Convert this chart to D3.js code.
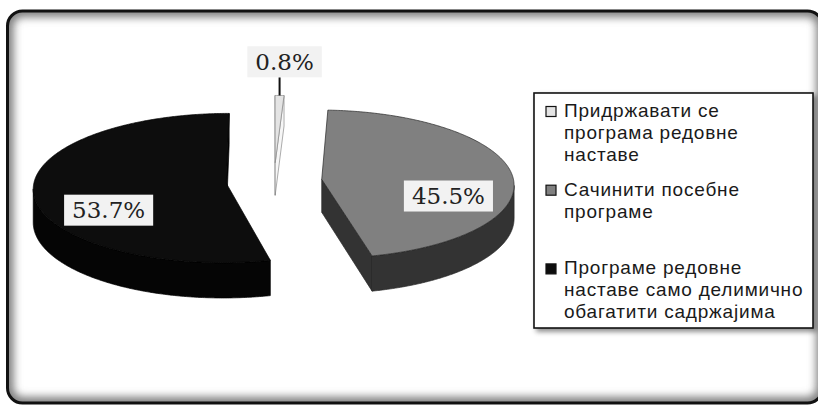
<!DOCTYPE html>
<html>
<head>
<meta charset="utf-8">
<script src="https://cdn.jsdelivr.net/npm/d3@7/dist/d3.min.js"></script>
<style>
  html, body { margin: 0; padding: 0; background: #ffffff; }
  svg { display: block; }
</style>
</head>
<body>
<svg id="chart" width="818" height="406"></svg>
<script>
// ---- data ----
const categories = [
  "Придржавати се програма редовне наставе",
  "Сачинити посебне програме",
  "Програме редовне наставе само делимично обагатити садржајима"
];
const legendLines = [
  ["Придржавати се", "програма редовне", "наставе"],
  ["Сачинити посебне", "програме"],
  ["Програме редовне", "наставе само делимично", "обагатити садржајима"]
];
const values = [0.8, 45.5, 53.7];
const valueLabels = ["0.8%", "45.5%", "53.7%"];

// ---- styles ----
const topColor  = d3.scaleOrdinal().domain(categories).range(["#e4e4e4", "#808080", "#0d0d0d"]);
const sideColor = d3.scaleOrdinal().domain(categories).range(["#f6f6f6", "#333333", "#050505"]);
const edgeColor = d3.scaleOrdinal().domain(categories).range(["#8a8a8a", "#262626", "#000000"]);

const W = 818, H = 406;
const svg = d3.select("#chart");
const defs = svg.append("defs");

// ---- outer frame with inner shadow ----
const frame = { x: 7.5, y: 11, w: 815, h: 392, r: 15 };
defs.append("clipPath").attr("id", "frameClip")
  .append("rect").attr("x", frame.x).attr("y", frame.y)
  .attr("width", frame.w).attr("height", frame.h).attr("rx", frame.r);
defs.append("filter").attr("id", "soft")
  .attr("x", "-5%").attr("y", "-5%").attr("width", "110%").attr("height", "110%")
  .append("feGaussianBlur").attr("stdDeviation", 4);
const shadow = defs.append("filter").attr("id", "legendShadow")
  .attr("x", "-10%").attr("y", "-10%").attr("width", "125%").attr("height", "125%");
shadow.append("feDropShadow").attr("dx", 3).attr("dy", 3).attr("stdDeviation", 2.5)
  .attr("flood-color", "#000").attr("flood-opacity", 0.45);

svg.append("rect").attr("x", frame.x).attr("y", frame.y)
  .attr("width", frame.w).attr("height", frame.h).attr("rx", frame.r)
  .attr("fill", "#ffffff");
svg.append("rect").attr("x", frame.x).attr("y", frame.y)
  .attr("width", frame.w).attr("height", frame.h).attr("rx", frame.r)
  .attr("fill", "none").attr("stroke", "#7a7a7a").attr("stroke-width", 12)
  .attr("filter", "url(#soft)").attr("clip-path", "url(#frameClip)");
svg.append("rect").attr("x", frame.x).attr("y", frame.y)
  .attr("width", frame.w).attr("height", frame.h).attr("rx", frame.r)
  .attr("fill", "none").attr("stroke", "#111").attr("stroke-width", 3);

// ---- 3D pie projection ----
const view = { cx: 274, cy: 181, rx: 192, ry: 74, depth: 33, persp: 0.065, explode: 0.25 };
const xs = d3.scaleLinear().domain([-1, 1]).range([-view.rx, view.rx]);
const zs = d3.scaleLinear().domain([-1, 1]).range([-view.ry, view.ry]);
// world x (right), z (toward viewer), h (0 = top face, 1 = bottom face)
function project(x, z, h) {
  const s = 1 / (1 - view.persp * z);
  return [view.cx + xs(x) * s, view.cy + (zs(z) + view.depth * h) * s];
}
function signedArea(pts) {
  let a = 0;
  for (let i = 0; i < pts.length; i++) {
    const p = pts[i], q = pts[(i + 1) % pts.length];
    a += p[0] * q[1] - q[0] * p[1];
  }
  return a / 2;
}
function sampleAngles(a0, a1) {
  const n = Math.max(2, Math.ceil((a1 - a0) / (Math.PI / 360)));
  return d3.range(n + 1).map(i => a0 + (a1 - a0) * i / n);
}
const line = d3.line();

const arcs = d3.pie().sort(null).value(d => d)(values);
arcs.forEach((a, i) => {
  a.cat = categories[i];
  a.label = valueLabels[i];
  a.mid = (a.startAngle + a.endAngle) / 2;
  a.ox = view.explode * Math.sin(a.mid);
  a.oz = -view.explode * Math.cos(a.mid);
});
const pt = (a, th, r, h) => project(a.ox + r * Math.sin(th), a.oz - r * Math.cos(th), h);

const pieG = svg.append("g").attr("class", "pie");
arcs.slice().sort((p, q) => p.oz - q.oz).forEach(a => {
  const g = pieG.append("g");
  const angles = sampleAngles(a.startAngle, a.endAngle);
  const faces = [];
  const C0 = pt(a, 0, 0, 0), C1 = pt(a, 0, 0, 1);
  const S0 = pt(a, a.startAngle, 1, 0), S1 = pt(a, a.startAngle, 1, 1);
  const E0 = pt(a, a.endAngle, 1, 0), E1 = pt(a, a.endAngle, 1, 1);
  [[C0, S0, S1, C1], [E0, C0, C1, E1]].forEach(q => { if (signedArea(q) < 0) faces.push(q); });

  // outer wall: keep only the runs that face the viewer
  const runs = [];
  let run = [];
  for (let k = 0; k < angles.length - 1; k++) {
    const t0 = pt(a, angles[k], 1, 0), t1 = pt(a, angles[k + 1], 1, 0);
    const b1 = pt(a, angles[k + 1], 1, 1), b0 = pt(a, angles[k], 1, 1);
    if (signedArea([t0, t1, b1, b0]) < 0) {
      if (!run.length) run.push(angles[k]);
      run.push(angles[k + 1]);
    } else if (run.length) { runs.push(run); run = []; }
  }
  if (run.length) runs.push(run);
  runs.forEach(r => faces.push(
    r.map(t => pt(a, t, 1, 0)).concat(r.slice().reverse().map(t => pt(a, t, 1, 1)))
  ));

  faces.forEach(f => g.append("path")
    .attr("d", line(f) + "Z")
    .attr("fill", sideColor(a.cat))
    .attr("stroke", edgeColor(a.cat)).attr("stroke-width", 0.7)
    .attr("stroke-linejoin", "round"));

  const top = [C0].concat(angles.map(t => pt(a, t, 1, 0)));
  g.append("path")
    .attr("d", line(top) + "Z")
    .attr("fill", topColor(a.cat))
    .attr("stroke", edgeColor(a.cat)).attr("stroke-width", 0.7)
    .attr("stroke-linejoin", "round");
});

// ---- value labels ----
const labelPlace = [
  { th: null, r: 1.55, leader: true },   // small slice: outside, with leader line
  { th: 109, r: 0.685 },
  { th: 239, r: 0.69 }
];
const labelG = svg.append("g").attr("class", "labels");
arcs.forEach((a, i) => {
  const lp = labelPlace[i];
  const th = lp.th === null ? a.mid : lp.th * Math.PI / 180;
  const [lx, ly] = pt(a, th, lp.r, 0);
  const bh = 31;
  let bx = lx, by = ly;
  if (lp.leader) {
    const [ax, ay] = pt(a, a.mid, 1, 0);
    labelG.append("line")
      .attr("x1", ax).attr("y1", ay).attr("x2", ax).attr("y2", ly + bh / 2)
      .attr("stroke", "#111").attr("stroke-width", 2);
    bx = ax + 5;
  }
  const gl = labelG.append("g");
  const rect = gl.append("rect").attr("fill", "#f2f2f2");
  const txt = gl.append("text")
    .attr("x", bx).attr("y", by).attr("dy", "0.36em")
    .attr("text-anchor", "middle")
    .attr("font-family", "'DejaVu Serif', serif")
    .attr("font-size", 23).attr("fill", "#222")
    .text(a.label);
  const tw = txt.node().getComputedTextLength();
  rect.attr("x", bx - tw / 2 - 8).attr("y", by - bh / 2)
    .attr("width", tw + 16).attr("height", bh);
});

// ---- legend ----
const legend = { x: 534, y: 93, w: 279, h: 235, firstBaseline: 24, lineH: 22, slot: 78.7 };
const lg = svg.append("g").attr("class", "legend");
lg.append("rect").attr("x", legend.x).attr("y", legend.y)
  .attr("width", legend.w).attr("height", legend.h)
  .attr("fill", "#fff").attr("stroke", "#151515").attr("stroke-width", 1.6)
  .attr("filter", "url(#legendShadow)");
categories.forEach((c, i) => {
  const base = legend.y + legend.firstBaseline + i * legend.slot;
  lg.append("rect")
    .attr("x", legend.x + 12).attr("y", base - 10.5)
    .attr("width", 10).attr("height", 10)
    .attr("fill", topColor(c)).attr("stroke", "#111").attr("stroke-width", 1.2);
  legendLines[i].forEach((s, j) => lg.append("text")
    .attr("x", legend.x + 30).attr("y", base + j * legend.lineH)
    .attr("font-family", "'Liberation Sans', Arial, sans-serif")
    .attr("font-size", 19).attr("letter-spacing", 0.8).attr("fill", "#1a1a1a")
    .text(s));
});
</script>
</body>
</html>
